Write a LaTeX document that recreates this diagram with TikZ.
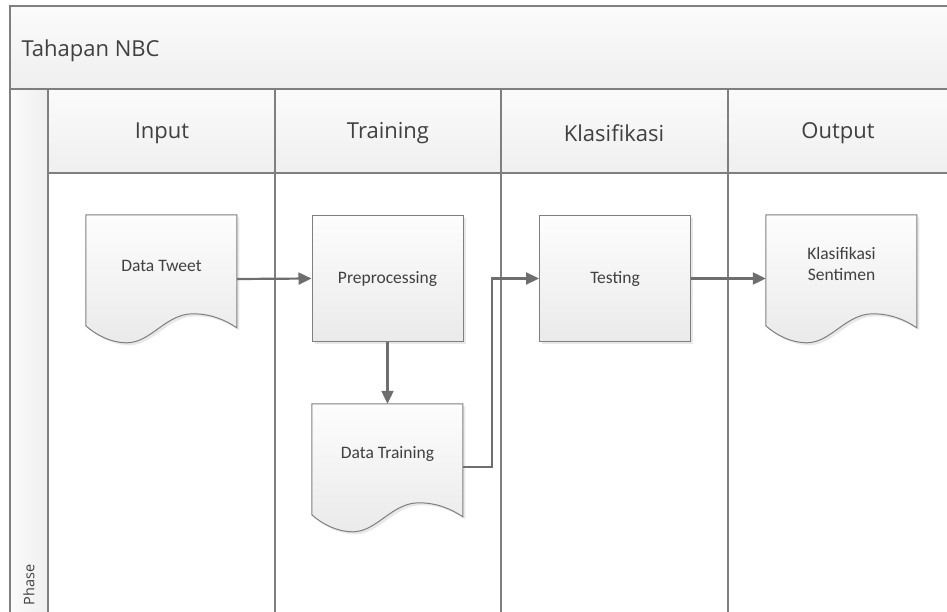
\documentclass[tikz,border=0pt]{standalone}
\usepackage{fontspec}
\setmainfont{Open Sans}
\newfontfamily\boxfont{Carlito}
\usetikzlibrary{arrows.meta,shadows}

\definecolor{frameline}{HTML}{7F7F7F}
\definecolor{flowline}{HTML}{6E6E6E}
\definecolor{inktext}{HTML}{404040}
\definecolor{bandtop}{HTML}{FBFBFB}
\definecolor{bandbot}{HTML}{EFEFEF}
\definecolor{shapetop}{HTML}{FDFDFD}
\definecolor{shapebot}{HTML}{EAEAEA}

\tikzset{
  lanerule/.style={draw=frameline, line width=1.5pt},
  band/.style={lanerule, top color=bandtop, bottom color=bandbot},
  headtext/.style={text=inktext, font=\fontsize{22}{26}\selectfont},
  procbox/.style={draw=frameline, line width=1pt, top color=shapetop, bottom color=shapebot,
    minimum width=151pt, minimum height=126pt, inner sep=0pt,
    text=inktext, font=\boxfont\fontsize{17.5}{20}\selectfont,
    drop shadow={opacity=0.18, shadow xshift=2.5pt, shadow yshift=-2.5pt}},
  docframe/.style={minimum width=151pt, minimum height=128pt, inner sep=0pt},
  docbody/.style={draw=frameline, line width=1pt, top color=shapetop, bottom color=shapebot,
    drop shadow={opacity=0.18, shadow xshift=2.5pt, shadow yshift=-2.5pt}},
  doctext/.style={text=inktext, font=\boxfont\fontsize{17.5}{21}\selectfont, align=center},
  flow/.style={draw=flowline, line width=2.2pt, -{Triangle[length=13pt,width=12pt]}},
}

% document symbol drawn inside the frame of a named node
\newcommand\docsymbol[1]{%
  \path[docbody, shift={(#1.north west)}]
    (0,0) -- (151,0) -- (151,113)
    .. controls (139,105) and (125,99) .. (107,99)
    .. controls (80,99) and (65,128) .. (41,128)
    .. controls (25,128) and (10,120) .. (0,111) -- cycle;%
}

\begin{document}
\begin{tikzpicture}[x=1pt, y=-1pt]
  \useasboundingbox (0,0) rectangle (947,612);
  \clip (0,0) rectangle (947,612);

  % pool title band
  \path[band] (10,6) rectangle (960,89);
  \node[anchor=west, headtext] (title) at (18,51) {Tahapan NBC};

  % phase column
  \path[lanerule, left color=bandtop, right color=bandbot] (10,89) rectangle (48,620);
  \node[rotate=90, anchor=west, text=inktext, font=\fontsize{14.5}{17}\selectfont] (phase) at (29,609) {Phase};

  % lane headers
  \path[band] (48,89) rectangle (275,173);
  \path[band] (275,89) rectangle (501,173);
  \path[band] (501,89) rectangle (728,173);
  \path[band] (728,89) rectangle (960,173);
  \node[headtext] (hin)  at (162,133) {Input};
  \node[headtext] (htr)  at (388,133) {Training};
  \node[headtext] (hkl)  at (614,133) {Klasifikasi};
  \node[headtext] (hout) at (838,133) {Output};

  % lane bodies
  \path[lanerule, fill=white] (48,173) rectangle (275,620);
  \path[lanerule, fill=white] (275,173) rectangle (501,620);
  \path[lanerule, fill=white] (501,173) rectangle (728,620);
  \path[lanerule, fill=white] (728,173) rectangle (960,620);

  % flow shapes
  \node[docframe] (tweet) at (161.5,279) {};
  \docsymbol{tweet}
  \node[doctext] (tweetlbl) at (161.5,266) {Data Tweet};

  \node[procbox] (prep) at (387.5,278.5) {Preprocessing};

  \node[docframe] (train) at (387.5,468) {};
  \docsymbol{train}
  \node[doctext] (trainlbl) at (387.5,454) {Data Training};

  \node[procbox] (test) at (615,278.5) {Testing};

  \node[docframe] (sent) at (841.5,279) {};
  \docsymbol{sent}
  \node[doctext] (sentlbl) at (841.5,264) {Klasifikasi\\Sentimen};

  % connectors
  \draw[flow] (tweet.east) -- (prep.west);
  \draw[flow] (prep.south) -- (train.north);
  \draw[flow] (train.east |- 0,467) -| (492,278.5) -- (test.west);
  \draw[flow] (test.east) -- (sent.west |- test.east);
\end{tikzpicture}
\end{document}
